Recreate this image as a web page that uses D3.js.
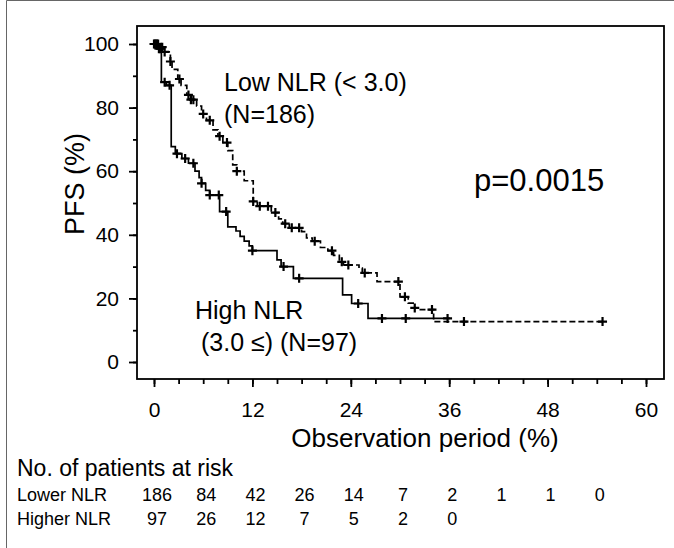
<!DOCTYPE html>
<html>
<head>
<meta charset="utf-8">
<script src="https://cdn.jsdelivr.net/npm/d3@7"></script>
<style>
body { margin: 0; background: #fff; }
text { font-family: "Liberation Sans", Arial, sans-serif; fill: #000; }
</style>
</head>
<body>
<svg width="674" height="548"></svg>
<script>
"use strict"

// Low NLR (< 3.0), dashed curve: step times (months) and PFS (%) after each step
let lowTimes = [0, 0.6, 1.2, 2.0, 2.2, 2.9, 3.3, 4.0, 4.4, 5.2, 5.8, 6.4, 7.2, 7.8, 8.4, 9.0, 9.6, 10.1, 11.0,
  12.1, 12.6, 14.3, 15.2, 15.7, 16.5, 18.0, 18.6, 19.3, 20.3, 21.2, 21.9, 22.6, 23.1, 25.0, 25.4, 27.2, 30.0,
  31.0, 31.6, 32.1, 34.1]
let lowSurv = [100, 99, 97.5, 94.5, 92, 89, 87, 84, 82.5, 80.5, 78, 76, 73, 71, 69, 66.5, 62, 60, 57,
  50.5, 49, 47, 45, 43.5, 42.2, 41, 39, 38, 36, 35, 33.5, 31.5, 30.5, 29.5, 28, 25.3, 20.5,
  18.5, 17, 16.5, 12.7]
let lowEnd = 54.7
let lowCensor = [0.1, 0.3, 0.5, 0.8, 1.0, 1.3, 2.0, 3.1, 4.2, 4.5, 4.8, 6.0, 6.8, 8.0, 8.9, 10.1, 12.1, 12.9,
  13.9, 14.8, 16.0, 16.8, 17.7, 19.6, 21.7, 22.9, 23.7, 25.7, 29.8, 30.6, 31.8, 33.9, 37.8, 54.7]

// High NLR (3.0 <=), solid curve
let highTimes = [0, 0.4, 0.9, 1.5, 2.1, 2.6, 3.4, 4.2, 5.0, 5.5, 5.8, 6.3, 6.8, 8.0, 9.0, 10.0, 10.5, 11.0,
  11.6, 12.0, 15.0, 15.5, 17.0, 23.0, 24.1, 26.1]
let highSurv = [100, 98.5, 88, 87, 67.7, 65.5, 64, 62.5, 60, 58, 56.2, 54, 52.5, 47.3, 42.5, 41.2, 39.5, 38,
  36.5, 35, 32.1, 30, 26.3, 21.1, 18.4, 13.7]
let highEnd = 36.1
let highCensor = [0, 0.3, 0.6, 0.8, 1.3, 1.9, 2.8, 3.8, 4.8, 5.8, 6.8, 7.9, 8.8, 12.0, 15.8, 17.7, 24.9,
  27.8, 30.7, 35.8]

// numbers at risk
let riskTimes = [0, 6, 12, 18, 24, 30, 36, 42, 48, 54]
let lowRisk = [186, 84, 42, 26, 14, 7, 2, 1, 1, 0]
let highRisk = [97, 26, 12, 7, 5, 2, 0]

let xTicks = [0, 12, 24, 36, 48, 60]
let xMinor = d3.range(0, 61, 3)
let yTicks = [0, 20, 40, 60, 80, 100]
let yMinor = d3.range(0, 101, 10)

let svg = d3.select("svg")

// outer border of the figure
svg.append("path")
  .attr("d", "M6.5,548V0.5H674")
  .attr("fill", "none")
  .attr("stroke", "#666")
  .attr("stroke-width", 1)

let x = d3.scaleLinear().domain([0, 60]).range([154, 646])
let y = d3.scaleLinear().domain([0, 100]).range([362, 44])

let frame = {left: 137, top: 26, right: 664, bottom: 379}

svg.append("rect")
  .attr("x", frame.left)
  .attr("y", frame.top)
  .attr("width", frame.right - frame.left)
  .attr("height", frame.bottom - frame.top)
  .attr("fill", "none")
  .attr("stroke", "#000")
  .attr("stroke-width", 1.8)

// x axis, minor then major ticks
svg.append("g")
  .attr("transform", "translate(0," + frame.bottom + ")")
  .call(d3.axisBottom(x).tickValues(xMinor).tickSize(5).tickFormat(""))
  .call(g => g.select(".domain").remove())
  .selectAll("line").attr("stroke-width", 1.8)

let xAxis = svg.append("g")
  .attr("transform", "translate(0," + frame.bottom + ")")
  .call(d3.axisBottom(x).tickValues(xTicks).tickSize(8).tickPadding(15))
  .call(g => g.select(".domain").remove())
xAxis.selectAll("line").attr("stroke-width", 1.8)
xAxis.selectAll("text").attr("font-size", 21).attr("font-family", null)

// y axis
svg.append("g")
  .attr("transform", "translate(" + frame.left + ",0)")
  .call(d3.axisLeft(y).tickValues(yMinor).tickSize(4).tickFormat(""))
  .call(g => g.select(".domain").remove())
  .selectAll("line").attr("stroke-width", 1.8)

let yAxis = svg.append("g")
  .attr("transform", "translate(" + frame.left + ",0)")
  .call(d3.axisLeft(y).tickValues(yTicks).tickSize(8).tickPadding(10))
  .call(g => g.select(".domain").remove())
yAxis.selectAll("line").attr("stroke-width", 1.8)
yAxis.selectAll("text").attr("font-size", 21).attr("font-family", null)

// axis titles
svg.append("text")
  .attr("transform", "translate(84,184) rotate(-90)")
  .attr("text-anchor", "middle")
  .attr("font-size", 27)
  .text("PFS (%)")

svg.append("text")
  .attr("x", 425)
  .attr("y", 447)
  .attr("text-anchor", "middle")
  .attr("font-size", 26)
  .text("Observation period (%)")

// curves
let line = d3.line()
  .x(d => x(d[0]))
  .y(d => y(d[1]))
  .curve(d3.curveStepAfter)

function points(times, surv, end) {
  let p = times.map((t, i) => [t, surv[i]])
  p.push([end, surv[surv.length - 1]])
  return p
}

function survAt(times, surv, t) {
  let i = d3.bisectRight(times, t) - 1
  return surv[Math.max(i, 0)]
}

let groups = [
  {times: lowTimes, surv: lowSurv, end: lowEnd, censor: lowCensor, dash: "6,3"},
  {times: highTimes, surv: highSurv, end: highEnd, censor: highCensor, dash: null}
]

groups.forEach(grp => {
  svg.append("path")
    .attr("d", line(points(grp.times, grp.surv, grp.end)))
    .attr("fill", "none")
    .attr("stroke", "#000")
    .attr("stroke-width", 1.7)
    .attr("stroke-dasharray", grp.dash)

  svg.append("g").selectAll("path")
    .data(grp.censor)
    .enter().append("path")
      .attr("transform", t => "translate(" + x(t) + "," + y(survAt(grp.times, grp.surv, t)) + ")")
      .attr("d", "M-4.5,0H4.5M0,-4.5V4.5")
      .attr("stroke", "#000")
      .attr("stroke-width", 2.2)
})

// annotations
let notes = [
  {text: "Low NLR (< 3.0)", x: 224, y: 91, size: 25},
  {text: "(N=186)", x: 224, y: 123, size: 25},
  {text: "High NLR", x: 195, y: 319, size: 25},
  {text: "(3.0 \u2264) (N=97)", x: 201, y: 351, size: 25},
  {text: "p=0.0015", x: 474, y: 191, size: 31}
]

svg.selectAll(".note")
  .data(notes)
  .enter().append("text")
    .attr("class", "note")
    .attr("x", d => d.x)
    .attr("y", d => d.y)
    .attr("font-size", d => d.size)
    .text(d => d.text)

// numbers at risk table
svg.append("text")
  .attr("x", 17)
  .attr("y", 476)
  .attr("font-size", 23)
  .text("No. of patients at risk")

let rows = [
  {label: "Lower NLR", values: lowRisk, y: 501},
  {label: "Higher NLR", values: highRisk, y: 525}
]

rows.forEach(row => {
  svg.append("text")
    .attr("x", 17)
    .attr("y", row.y)
    .attr("font-size", 18)
    .text(row.label)

  svg.append("g").selectAll("text")
    .data(row.values)
    .enter().append("text")
      .attr("x", (d, i) => x(riskTimes[i]) + 3)
      .attr("y", row.y)
      .attr("text-anchor", "middle")
      .attr("font-size", 18)
      .text(d => d)
})
</script>
</body>
</html>
